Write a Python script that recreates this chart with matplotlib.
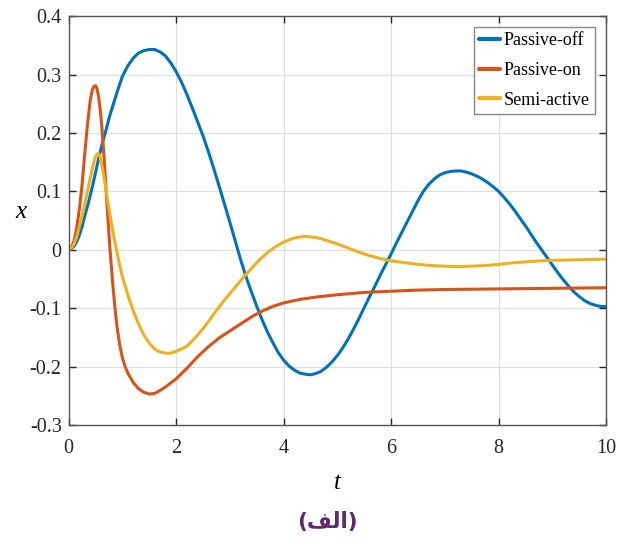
import matplotlib
matplotlib.use("Agg")
import matplotlib.pyplot as plt

# values
t_off = [0, 0.05, 0.1, 0.15, 0.2, 0.25, 0.3, 0.36, 0.42, 0.49, 0.56, 0.62, 0.68, 0.76,
         0.85, 0.93, 1.0, 1.1, 1.2, 1.3, 1.4, 1.5, 1.6, 1.7, 1.8, 1.9, 2.0, 2.1, 2.2,
         2.3, 2.4, 2.5, 2.6, 2.7, 2.8, 2.9, 3.0, 3.1, 3.2, 3.3, 3.4, 3.5, 3.6, 3.7,
         3.8, 3.9, 4.0, 4.1, 4.2, 4.3, 4.4, 4.5, 4.6, 4.7, 4.8, 4.9, 5.0, 5.1, 5.2,
         5.3, 5.4, 5.5, 5.6, 5.7, 5.8, 5.9, 6.0, 6.1, 6.2, 6.3, 6.4, 6.5, 6.6, 6.7,
         6.8, 6.9, 7.0, 7.1, 7.2, 7.3, 7.4, 7.5, 7.6, 7.7, 7.8, 7.9, 8.0, 8.1, 8.2,
         8.3, 8.4, 8.5, 8.6, 8.7, 8.8, 8.9, 9.0, 9.1, 9.2, 9.3, 9.4, 9.5, 9.6, 9.7,
         9.8, 9.9, 10.0]
x_off = [0, 0.002, 0.006, 0.014, 0.025, 0.04, 0.058, 0.078, 0.1, 0.128, 0.157, 0.18,
         0.2, 0.228, 0.255, 0.278, 0.297, 0.315, 0.328, 0.337, 0.341, 0.343, 0.343,
         0.339, 0.332, 0.32, 0.305, 0.287, 0.266, 0.243, 0.219, 0.195, 0.168, 0.139,
         0.109, 0.078, 0.047, 0.015, -0.017, -0.046, -0.072, -0.097, -0.12, -0.141,
         -0.159, -0.176, -0.189, -0.199, -0.206, -0.211, -0.213, -0.214, -0.212,
         -0.208, -0.201, -0.192, -0.181, -0.168, -0.153, -0.136, -0.118, -0.099,
         -0.08, -0.062, -0.043, -0.025, -0.007, 0.012, 0.03, 0.048, 0.066, 0.084,
         0.1, 0.112, 0.121, 0.128, 0.132, 0.134, 0.135, 0.135, 0.133, 0.13, 0.126,
         0.121, 0.115, 0.108, 0.1, 0.09, 0.079, 0.067, 0.054, 0.041, 0.027, 0.013,
         0.0, -0.013, -0.026, -0.039, -0.051, -0.062, -0.072, -0.08, -0.087, -0.092,
         -0.095, -0.097, -0.097]

t_on = [0, 0.05, 0.1, 0.15, 0.2, 0.25, 0.3, 0.35, 0.4, 0.44, 0.47, 0.5, 0.53, 0.56,
        0.59, 0.62, 0.65, 0.68, 0.71, 0.74, 0.77, 0.8, 0.83, 0.86, 0.9, 0.95, 1.0,
        1.05, 1.1, 1.2, 1.3, 1.4, 1.5, 1.6, 1.7, 1.8, 1.9, 2.0, 2.2, 2.4, 2.6, 2.8,
        3.0, 3.2, 3.4, 3.6, 3.8, 4.0, 4.3, 4.6, 5.0, 5.5, 6.0, 6.5, 7.0, 8.0, 9.0,
        10.0]
x_on = [0, 0.004, 0.015, 0.038, 0.07, 0.112, 0.165, 0.215, 0.255, 0.274, 0.28, 0.281,
        0.275, 0.26, 0.238, 0.207, 0.17, 0.127, 0.082, 0.04, 0.0, -0.035, -0.068,
        -0.098, -0.132, -0.163, -0.185, -0.2, -0.211, -0.227, -0.238, -0.244, -0.247,
        -0.246, -0.241, -0.235, -0.228, -0.221, -0.203, -0.183, -0.166, -0.151,
        -0.139, -0.127, -0.115, -0.105, -0.097, -0.091, -0.085, -0.081, -0.077,
        -0.073, -0.071, -0.069, -0.068, -0.067, -0.066, -0.065]

t_semi = [0, 0.05, 0.1, 0.15, 0.2, 0.25, 0.3, 0.35, 0.4, 0.45, 0.49, 0.52, 0.55,
          0.58, 0.61, 0.65, 0.7, 0.75, 0.8, 0.85, 0.9, 0.95, 1.0, 1.1, 1.2, 1.3,
          1.4, 1.5, 1.6, 1.7, 1.8, 1.9, 2.0, 2.1, 2.2, 2.3, 2.4, 2.5, 2.6, 2.7, 2.8,
          2.9, 3.0, 3.1, 3.2, 3.3, 3.4, 3.5, 3.6, 3.7, 3.8, 3.9, 4.0, 4.1, 4.2, 4.3,
          4.4, 4.5, 4.6, 4.7, 4.8, 4.9, 5.0, 5.2, 5.4, 5.6, 5.8, 6.0, 6.25, 6.5,
          6.75, 7.0, 7.25, 7.5, 7.75, 8.0, 8.3, 8.6, 9.0, 9.5, 10.0]
x_semi = [0, 0.003, 0.01, 0.022, 0.04, 0.058, 0.078, 0.1, 0.122, 0.143, 0.157, 0.163,
          0.165, 0.16, 0.148, 0.128, 0.1, 0.07, 0.043, 0.018, -0.005, -0.027, -0.046,
          -0.077, -0.104, -0.127, -0.146, -0.16, -0.17, -0.175, -0.177, -0.177,
          -0.174, -0.17, -0.165, -0.156, -0.146, -0.135, -0.123, -0.11, -0.098,
          -0.086, -0.075, -0.064, -0.053, -0.042, -0.032, -0.022, -0.013, -0.005,
          0.002, 0.008, 0.013, 0.017, 0.02, 0.022, 0.023, 0.022, 0.021, 0.019, 0.016,
          0.013, 0.01, 0.003, -0.004, -0.01, -0.015, -0.019, -0.022, -0.025, -0.027,
          -0.028, -0.029, -0.028, -0.027, -0.025, -0.022, -0.02, -0.018, -0.017,
          -0.016]

labels = ["Passive-off", "Passive-on", "Semi-active"]
colors = ["#0072BD", "#D95319", "#EDB120"]

x_ticks = [0, 2, 4, 6, 8, 10]
y_ticks = [-0.3, -0.2, -0.1, 0, 0.1, 0.2, 0.3, 0.4]
y_ticklabels = ["-0.3", "-0.2", "-0.1", "0", "0.1", "0.2", "0.3", "0.4"]

caption = "(" + "\uFED2\uFEDF\uFE8D" + ")"  # الف in visual order

plt.rcParams["font.family"] = ["Liberation Serif", "DejaVu Serif"]

fig = plt.figure(figsize=(6.3, 5.4), dpi=100)
ax = fig.add_axes([0.109, 0.213, 0.853, 0.757])

for t, x, lab, c in zip([t_off, t_on, t_semi], [x_off, x_on, x_semi], labels, colors):
    ax.plot(t, x, color=c, lw=2.2, label=lab, solid_capstyle="round",
            solid_joinstyle="round")

ax.set_xlim(0, 10)
ax.set_ylim(-0.3, 0.4)
ax.set_xticks(x_ticks)
ax.set_yticks(y_ticks)
ax.set_yticklabels(y_ticklabels)
ax.grid(True, color="#dedede", lw=0.8)
ax.set_axisbelow(True)

ax.tick_params(direction="in", length=5, width=1, top=True, right=True,
               labelsize=14.5, colors="#262626", pad=5)
ax.tick_params(axis="x", pad=10)
for s in ax.spines.values():
    s.set_color("#555555")
    s.set_linewidth(1.0)

ax.set_xlabel("t", fontsize=18, style="italic")
ax.xaxis.set_label_coords(0.5, -0.115)
ax.set_ylabel("x", fontsize=18, style="italic", rotation=0, va="center", ha="center")
ax.yaxis.set_label_coords(-0.089, 0.52)

leg = ax.legend(loc="upper right", fontsize=13, fancybox=False, framealpha=1,
                edgecolor="#888888", handlelength=1.15, handletextpad=0.2,
                borderpad=0.3, labelspacing=0.7, borderaxespad=0.6)
leg.get_frame().set_linewidth(1.0)
for line in leg.get_lines():
    line.set_linewidth(3)

fig.text(0.52, 0.033, caption, ha="center", va="center", fontsize=15.5,
         fontweight="bold", color="#5E2A6E", family=["DejaVu Sans"])

fig.savefig("out.png", dpi=100)
